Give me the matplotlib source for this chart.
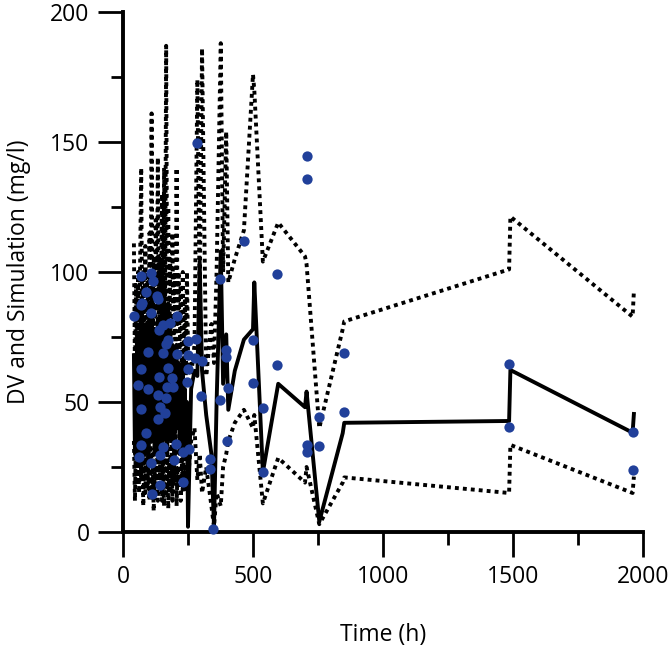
import numpy as np
import matplotlib.pyplot as plt

plt.rcParams['font.family'] = ['Open Sans', 'DejaVu Sans']

# observed concentrations (time h, DV mg/l)
obs_t = [42, 69, 108, 114, 88, 72, 71, 132, 133, 106, 206, 155, 181, 140, 174, 164,
         95, 155, 206, 251, 281, 251, 277, 305, 68, 174, 140, 187, 251, 245, 59, 97,
         168, 191, 136, 165, 142, 68, 162, 133, 300, 373, 396, 396, 373, 405, 465,
         501, 501, 540, 540, 594, 594, 401, 89, 69, 63, 106, 155, 141, 204, 198, 232,
         254, 229, 142, 110, 335, 335, 347, 286, 706, 706, 706, 706, 755, 755, 851,
         851, 1485, 1485, 1960, 1960]
obs_dv = [83.2, 98.5, 99.5, 96.5, 92.4, 88.2, 87.3, 90.8, 89.5, 84.1, 83.1, 79.6, 80.3,
          77.7, 73.8, 72.5, 69.1, 68.7, 68.5, 73.6, 74.2, 68.1, 66.8, 65.8, 62.6, 62.9,
          59.7, 59.1, 62.7, 57.8, 56.5, 54.9, 55.9, 55.9, 52.7, 51.4, 48.2, 47.2, 45.6,
          43.3, 52.4, 97.2, 70.0, 67.2, 50.8, 55.3, 112.0, 73.8, 57.4, 47.8, 23.2, 99.4,
          64.2, 35.0, 38.0, 33.5, 29.0, 26.4, 32.7, 29.7, 33.7, 27.6, 30.8, 31.8, 19.1,
          18.1, 14.5, 28.0, 24.1, 1.0, 149.7, 144.5, 135.6, 33.5, 30.8, 44.3, 33.2, 69.0,
          46.3, 64.6, 40.5, 38.5, 23.8]

# simulated median and 5th / 95th percentiles
sim_t = [42, 46, 50, 54, 58, 62, 66, 70, 74, 78, 82, 86, 90, 94, 98, 102, 106, 110,
         114, 118, 122, 126, 130, 134, 138, 142, 146, 150, 154, 158, 162, 166, 170,
         174, 178, 182, 186, 190, 194, 198, 202, 206, 210, 214, 218, 222, 226, 230,
         234, 238, 242, 246, 250,
         262, 275, 286, 295, 304, 320, 340, 350, 360, 376, 385, 397, 405, 430, 465,
         500, 505, 538, 597, 700, 706, 755, 845, 851, 1485, 1490, 1960, 1965]
sim_med = [68, 30, 60, 38, 75, 28, 70, 85, 35, 65, 30, 80, 40, 72, 25, 88, 45, 92,
           35, 70, 30, 78, 40, 82, 30, 75, 38, 90, 35, 96, 40, 85, 30,
           88, 45, 80, 35, 72, 50, 30, 70, 72, 40, 65, 30, 60, 45, 66,
           30, 55, 35, 50, 2,
           55, 62, 60, 104, 62, 45, 30, 2, 50, 108, 57, 76, 47, 62, 74,
           78, 96, 23, 57, 48, 54, 4, 38, 42, 42.7, 62.3, 38.2, 45.4]
sim_lo = [35, 12, 40, 18, 30, 15, 45, 20, 35, 10, 30, 15, 40, 18, 28, 12, 35, 14,
          30, 8, 25, 15, 38, 12, 30, 20, 45, 12, 28, 10, 35, 15, 30,
          9, 28, 16, 40, 12, 30, 20, 50, 10, 25, 18, 35, 12, 28, 15,
          30, 20, 25, 15, 20,
          35, 40, 20, 30, 15, 25, 10, 2, 15, 10, 25, 30, 35, 42, 47,
          40, 45, 11, 28.5, 19, 25, 3, 19, 21, 15, 33.5, 15, 21.3]
sim_hi = [111, 60, 95, 65, 100, 70, 105, 140, 75, 100, 65, 110, 75, 100, 70, 115, 80, 161,
          75, 105, 80, 120, 85, 144, 70, 105, 85, 130, 80, 140, 90, 187, 85,
          125, 70, 105, 80, 115, 75, 100, 65, 140, 80, 100, 70, 95, 60, 100,
          65, 90, 60, 100, 70,
          60, 72, 174, 90, 186, 60, 80, 65, 100, 188, 100, 154, 96, 105, 116,
          176, 170, 104, 119, 106, 103, 40, 78, 81, 101, 121.3, 82.8, 92.7]

fig = plt.figure(figsize=(6.72, 6.53), dpi=100)
ax = fig.add_axes([123/672, 121/653, 520/672, 520/653])

dots = (0, (1, 1.05))
ax.plot(sim_t, sim_hi, color='black', lw=2.8, linestyle=dots)
ax.plot(sim_t, sim_lo, color='black', lw=2.8, linestyle=dots)
ax.plot(sim_t, sim_med, color='black', lw=2.8)
ax.plot(obs_t, obs_dv, 'o', color='#21409a', ms=7.4, mec='none', clip_on=False, zorder=5)

ax.set_xlim(0, 2000)
ax.set_ylim(0, 200)
ax.set_xticks([0, 500, 1000, 1500, 2000])
ax.set_xticks([250, 750, 1250, 1750], minor=True)
ax.set_yticks([0, 50, 100, 150, 200])
ax.set_yticks([25, 75, 125, 175], minor=True)
for s in ['top', 'right']:
    ax.spines[s].set_visible(False)
for s in ['left', 'bottom']:
    ax.spines[s].set_linewidth(2.8)
ax.tick_params(which='major', length=18, width=2, labelsize=16.5, pad=6)
ax.tick_params(which='minor', length=9, width=2)
ax.set_xlabel('Time (h)', fontsize=16.5, labelpad=24)
ax.set_ylabel('DV and Simulation (mg/l)', fontsize=16.5, labelpad=14)

fig.savefig('out.png', dpi=100)
